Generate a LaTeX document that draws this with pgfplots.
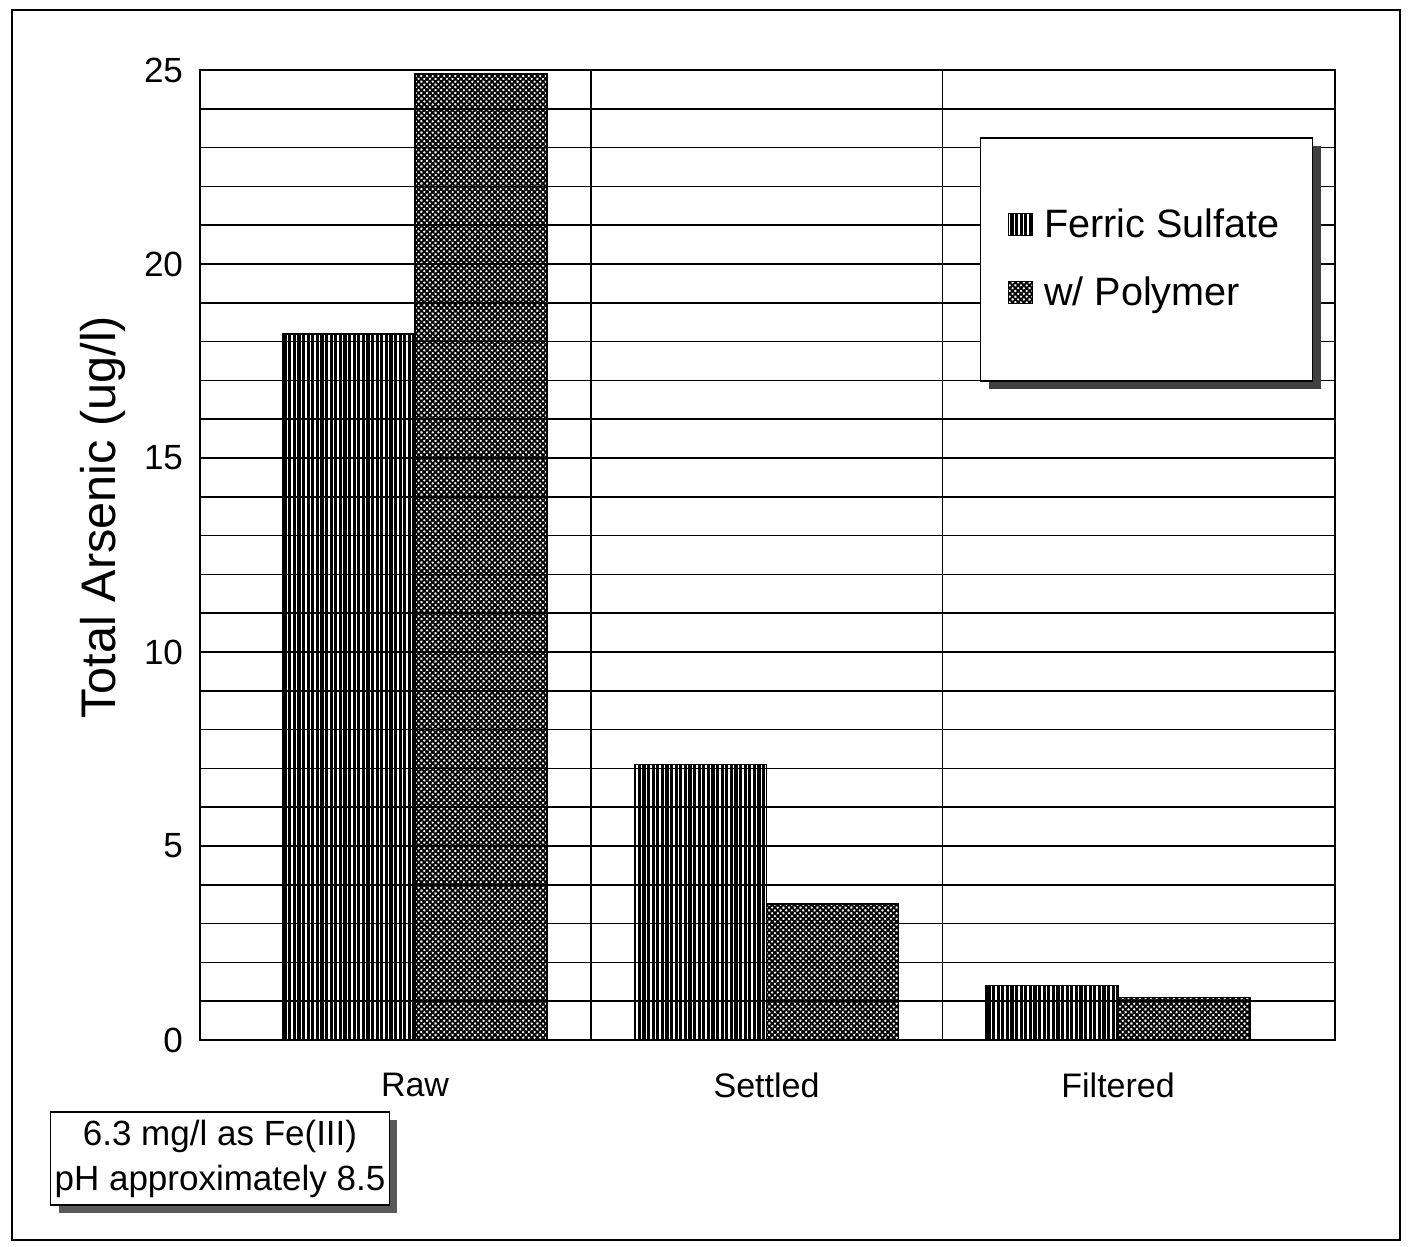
\documentclass[border=0pt]{standalone}
\usepackage{pgfplots}
\pgfplotsset{compat=1.18}
\usepackage{fontspec}
\setmainfont{Liberation Sans}
\usetikzlibrary{patterns.meta,shadows}
\pgfplotsset{sqlegend/.style={legend image code/.code={\draw[##1, line width=0.5pt] (0pt,-5.5pt) rectangle (12pt,5.5pt);}}}

\begin{document}
\begin{tikzpicture}
\path[use as bounding box] (0,0) rectangle (704.5pt,623.5pt);
\draw[line width=0.8pt] (6pt,3.5pt) rectangle (700pt,618.5pt);
\begin{axis}[
  at={(100pt,103.5pt)}, anchor=south west,
  scale only axis, width=567.5pt, height=485pt,
  xmin=-0.6117, xmax=2.617, ymin=0, ymax=25,
  ybar=0pt, bar width=66pt,
  xtick={0,1,2}, xticklabels={Raw,Settled,Filtered},
  ytick={0,5,...,25}, minor y tick num=4,
  ymajorgrids, yminorgrids,
  extra x ticks={0.5,1.5}, extra x tick labels={},
  extra x tick style={grid=major, major tick length=0pt},
  major tick length=0pt, minor tick length=0pt,
  major grid style={black, line width=0.75pt},
  minor grid style={black, line width=0.75pt},
  axis line style={black, line width=0.9pt},
  /pgf/number format/assume math mode=true,
  yticklabel style={font=\fontsize{17.5}{20}\selectfont, xshift=-5pt},
  xticklabel style={font=\fontsize{17}{20}\selectfont, yshift=-13pt},
  ylabel={Total Arsenic (ug/l)},
  ylabel style={font=\fontsize{24.3}{28}\selectfont, at={(axis description cs:-0.0855,0.539)}, anchor=center},
  legend style={at={(axis description cs:0.8365,0.8057)}, anchor=center,
    draw=none, fill=none,
    font=\fontsize{19.8}{23}\selectfont,
    inner sep=0pt, row sep=14pt,
    nodes={inner xsep=5.5pt}},
  legend cell align=left,
]
\addplot[draw=black, line width=0.8pt,
  pattern={Lines[angle=90,distance=2.3pt,line width=1.6pt]}, sqlegend]
  coordinates {(0,18.2) (1,7.1) (2,1.4)};
\addplot[draw=black, line width=0.8pt,
  pattern={Hatch[angle=45,distance=2pt,line width=0.95pt]}, sqlegend]
  coordinates {(0,24.9) (1,3.5) (2,1.1)};
\legend{Ferric Sulfate, w/ Polymer}
\node[draw, fill=white, line width=0.8pt, anchor=north west, inner sep=0pt,
  minimum width=166pt, minimum height=121.5pt,
  drop shadow={opacity=1, fill=black!75, shadow xshift=4pt, shadow yshift=-4pt}]
  at (rel axis cs:0.687,0.931) {};
\end{axis}
\node[draw, fill=white, line width=0.8pt, align=center, inner sep=2pt,
  minimum width=165pt, minimum height=46.5pt,
  font=\fontsize{17.5}{22.5}\selectfont,
  drop shadow={opacity=1, fill=black!65, shadow xshift=4pt, shadow yshift=-4pt}]
  at (110pt,44.25pt) {6.3 mg/l as Fe(III)\\pH approximately 8.5};
\end{tikzpicture}
\end{document}
